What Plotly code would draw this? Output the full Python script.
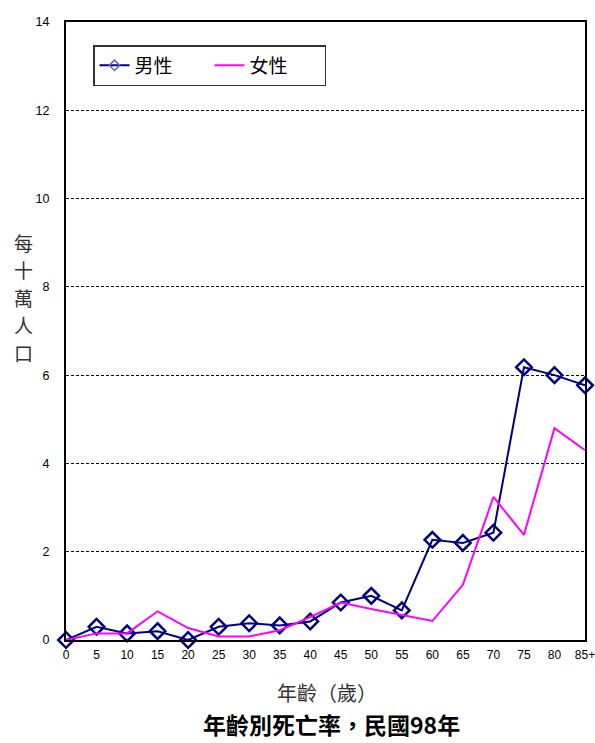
import plotly.graph_objects as go

ages = ["0", "5", "10", "15", "20", "25", "30", "35", "40", "45", "50", "55",
        "60", "65", "70", "75", "80", "85+"]
male = [0.0, 0.30, 0.15, 0.20, 0.0, 0.30, 0.38, 0.33, 0.42, 0.85, 1.0, 0.67,
        2.27, 2.2, 2.43, 6.18, 6.0, 5.77]
female = [0.0, 0.15, 0.15, 0.65, 0.27, 0.08, 0.08, 0.22, 0.52, 0.85, 0.70, 0.57,
          0.43, 1.25, 3.24, 2.38, 4.8, 4.3]
y_ticks = [0, 2, 4, 6, 8, 10, 12, 14]
y_title_chars = ["每", "十", "萬", "人", "口"]

cjk = "Noto Sans CJK TC"
lat = "Liberation Sans"
NAVY = "#000080"
MAG = "#FF00FF"

fig = go.Figure()
fig.add_trace(go.Scatter(
    x=ages, y=male, name="男性", mode="lines+markers", showlegend=False,
    line=dict(color=NAVY, width=2),
    marker=dict(symbol="diamond-open", size=12, color=NAVY,
                line=dict(color=NAVY, width=2.5)),
    cliponaxis=False,
))
fig.add_trace(go.Scatter(
    x=ages, y=female, name="女性", mode="lines", showlegend=False,
    line=dict(color=MAG, width=2),
    cliponaxis=False,
))
# legend-only entries (smaller legend symbol, as in the reference)
fig.add_trace(go.Scatter(
    x=[None], y=[None], name="男性", mode="lines+markers",
    line=dict(color=NAVY, width=2),
    marker=dict(symbol="diamond-open", size=8, color="#6666bb",
                line=dict(color="#6666bb", width=1.5)),
))
fig.add_trace(go.Scatter(
    x=[None], y=[None], name="女性", mode="lines",
    line=dict(color=MAG, width=2),
))

W, H = 595, 743
ML, MR, MT, MB = 66, 10, 22, 103
plot_h = H - MT - MB
plot_w = W - ML - MR

def py(ypix):
    return (H - MB - ypix) / plot_h

annotations = []
for i, ch in enumerate(y_title_chars):
    annotations.append(dict(
        text=ch, xref="paper", yref="paper",
        x=(23 - ML) / plot_w, y=py(242 + i * 27.5),
        xanchor="center", yanchor="middle", showarrow=False,
        font=dict(family=cjk, size=19, color="#333333")))
annotations += [
    dict(text="年齡（歲）", xref="paper", yref="paper",
         x=(327 - ML) / plot_w, y=py(692), xanchor="center", yanchor="middle",
         showarrow=False, font=dict(family=cjk, size=20, color="#333333")),
    dict(text="<b>年齡別死亡率，民國98年</b>", xref="paper", yref="paper",
         x=(331 - ML) / plot_w, y=py(724), xanchor="center", yanchor="middle",
         showarrow=False, font=dict(family=cjk, size=23, color="black")),
]

fig.update_layout(
    width=W, height=H,
    margin=dict(l=ML, r=MR, t=MT, b=MB, autoexpand=False),
    paper_bgcolor="white", plot_bgcolor="white",
    showlegend=True,
    legend=dict(
        orientation="h", x=(93 - ML) / plot_w, y=py(45),
        xanchor="left", yanchor="top",
        bordercolor="#333333", borderwidth=1.5, bgcolor="white",
        font=dict(family=cjk, size=19, color="black"),
        entrywidth=70, entrywidthmode="pixels", tracegroupgap=0,
    ),
    xaxis=dict(
        type="category", range=[0, 17], automargin=False,
        showline=True, linecolor="black", linewidth=2, mirror=True,
        showgrid=False, ticks="", zeroline=False,
        ticklabelstandoff=3,
        tickfont=dict(family=lat, size=12, color="black"),
    ),
    yaxis=dict(
        range=[0, 14], tickvals=y_ticks, automargin=False,
        showline=True, linecolor="black", linewidth=2, mirror=True,
        showgrid=True, gridcolor="black", griddash="3px,2px", gridwidth=1,
        zeroline=False, ticks="", ticklen=0, ticklabelstandoff=12,
        tickfont=dict(family=lat, size=12.5, color="black"),
    ),
    annotations=annotations,
)

fig.write_html("out.html",
               config={"displayModeBar": False},
               post_script="document.body.style.margin='0';"
                           "document.body.style.overflow='hidden';")
